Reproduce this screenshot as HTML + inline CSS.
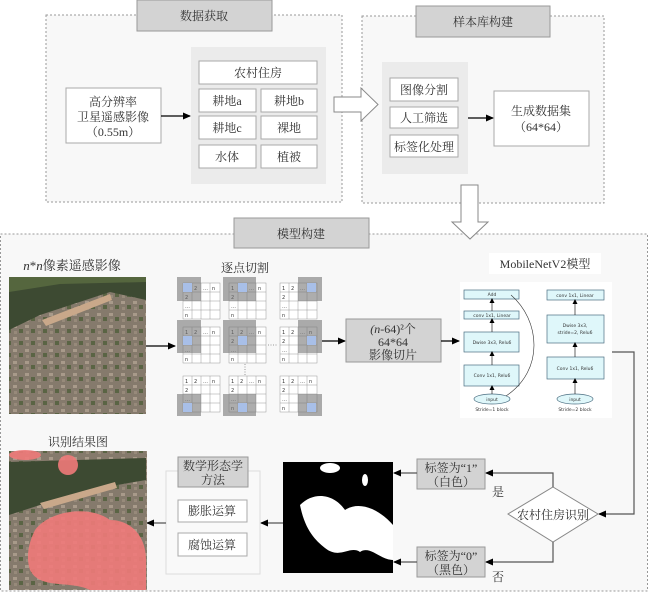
<!DOCTYPE html>
<html><head><meta charset="utf-8"><style>
body{margin:0;background:#fff}
svg{display:block;font-family:"Liberation Serif","Noto Serif CJK SC",serif}
.t{font-size:12px;fill:#333;text-anchor:middle}
.s{font-family:"DejaVu Sans",sans-serif;font-size:4.5px;fill:#333;text-anchor:middle}
.g{font-family:"DejaVu Sans",sans-serif;font-size:5px;fill:#333}
</style></head><body>
<svg width="650" height="593" viewBox="0 0 650 593" xmlns="http://www.w3.org/2000/svg">
<defs>
<marker id="a" markerWidth="8" markerHeight="8" refX="7" refY="4" orient="auto" markerUnits="userSpaceOnUse"><path d="M0,0.5 L8,4 L0,7.5z" fill="#000"/></marker>
<marker id="b" markerWidth="5" markerHeight="5" refX="4" refY="2.5" orient="auto" markerUnits="userSpaceOnUse"><path d="M0,0 L5,2.5 L0,5z" fill="#000"/></marker>
<pattern id="sat" width="12" height="12" patternUnits="userSpaceOnUse"><rect width="12" height="12" fill="#857a6c"/><rect x="1" y="1" width="4" height="3" fill="#a89a8a"/><rect x="7" y="5" width="4" height="4" fill="#5a6444"/><rect x="2" y="7" width="3" height="3" fill="#978a7a"/></pattern>
<g id="grid">
<rect x="0" y="0" width="37" height="36" fill="#fff" stroke="#999" stroke-width="0.5"/>
<path d="M0,9 H37 M0,18 H37 M0,27 H37 M9,0 V36 M18,0 V36 M27,0 V36" stroke="#999" stroke-width="0.5"/>
<text class="g" x="2" y="7">1</text><text class="g" x="11" y="7">2</text><text class="g" x="20" y="7">…</text><text class="g" x="29" y="7">n</text>
<text class="g" x="2" y="16">2</text><text class="g" x="2" y="25">…</text><text class="g" x="2" y="34">n</text>
</g>
</defs>
<!-- Box 1 -->
<rect x="46" y="15" width="296" height="187" fill="#f8f8f8" stroke="#999" stroke-dasharray="2,2"/>
<rect x="137" y="0" width="135" height="31" fill="#d3d3d3" stroke="#999"/>
<text class="t" x="204" y="20">数据获取</text>
<rect x="191" y="47" width="135" height="137" fill="#ebebeb"/>
<g fill="#fff" stroke="#aaa">
<rect x="199" y="61" width="118" height="23"/>
<rect x="199" y="89" width="57" height="23"/><rect x="261" y="89" width="56" height="23"/>
<rect x="199" y="116" width="57" height="23"/><rect x="261" y="116" width="56" height="23"/>
<rect x="199" y="145" width="57" height="23"/><rect x="261" y="145" width="56" height="23"/>
<rect x="66" y="88" width="95" height="55"/>
</g>
<text class="t" x="258" y="77">农村住房</text>
<text class="t" x="227" y="105">耕地a</text><text class="t" x="289" y="105">耕地b</text>
<text class="t" x="227" y="132">耕地c</text><text class="t" x="289" y="132">裸地</text>
<text class="t" x="227" y="161">水体</text><text class="t" x="289" y="161">植被</text>
<text class="t" x="113" y="106">高分辨率</text>
<text class="t" x="113" y="121">卫星遥感影像</text>
<text class="t" x="113" y="136">（0.55m）</text>
<line x1="161" y1="116" x2="190" y2="116" stroke="#000" stroke-width="1.2" marker-end="url(#a)"/>
<!-- Box 2 -->
<rect x="362" y="16" width="242" height="187" fill="#f8f8f8" stroke="#999" stroke-dasharray="2,2"/>
<rect x="416" y="6" width="134" height="31" fill="#d3d3d3" stroke="#999"/>
<text class="t" x="483" y="26">样本库构建</text>
<path d="M334,97 L361,97 L361,88 L378,104.5 L361,121 L361,112 L334,112z" fill="#fff" stroke="#888"/>
<rect x="382" y="62" width="86" height="112" fill="#ebebeb"/>
<g fill="#fff" stroke="#aaa">
<rect x="390" y="78" width="68" height="23"/><rect x="390" y="107" width="68" height="21"/><rect x="390" y="135" width="68" height="22"/>
<rect x="494" y="91" width="95" height="55"/>
</g>
<text class="t" x="424" y="94">图像分割</text>
<text class="t" x="424" y="122">人工筛选</text>
<text class="t" x="424" y="151">标签化处理</text>
<text class="t" x="541" y="115">生成数据集</text>
<text class="t" x="541" y="131">（64*64）</text>
<line x1="468" y1="118" x2="493" y2="118" stroke="#000" stroke-width="1.2" marker-end="url(#a)"/>
<!-- Box 3 -->
<rect x="0.5" y="234" width="647" height="357" fill="#f8f8f8" stroke="#999" stroke-dasharray="2,2"/>
<path d="M461,185 L478,185 L478,222 L488,222 L470,239 L452,222 L461,222z" fill="#fff" stroke="#888"/>
<rect x="234" y="218" width="135" height="30" fill="#d3d3d3" stroke="#999"/>
<text class="t" x="301" y="238">模型构建</text>
<text class="t" x="72" y="270" style="font-size:13px"><tspan font-style="italic">n</tspan>*<tspan font-style="italic">n</tspan>像素遥感影像</text>
<rect x="9" y="277" width="137" height="137" fill="url(#sat)"/>
<path d="M9,290 L60,282 L146,280 L146,300 L110,292 L40,315 L9,330z" fill="#3d4a32"/>
<path d="M42,320 L110,294 L112,300 L46,326z" fill="#c9a88a"/>
<path d="M9,277 L146,277 L146,282 L60,284 L9,292z" fill="#55663e"/>
<text class="t" x="245" y="272">逐点切割</text>
<use href="#grid" x="183" y="283"/><use href="#grid" x="229" y="283"/><use href="#grid" x="280" y="283"/>
<use href="#grid" x="183" y="327"/><use href="#grid" x="229" y="327"/><use href="#grid" x="280" y="327"/>
<use href="#grid" x="183" y="376"/><use href="#grid" x="229" y="376"/><use href="#grid" x="280" y="376"/>
<g fill="#777" opacity="0.6">
<rect x="177" y="277" width="24" height="24"/><rect x="223" y="277" width="33" height="24"/><rect x="298" y="277" width="24" height="24"/>
<rect x="177" y="320" width="24" height="33"/><rect x="223" y="320" width="33" height="33"/><rect x="298" y="320" width="24" height="33"/>
<rect x="177" y="394" width="24" height="22"/><rect x="223" y="394" width="33" height="22"/><rect x="298" y="394" width="24" height="22"/>
</g>
<g fill="#a8bfe8"><rect x="183" y="283" width="9" height="9"/><rect x="238" y="283" width="9" height="9"/><rect x="307" y="283" width="9" height="9"/>
<rect x="183" y="336" width="9" height="9"/><rect x="238" y="336" width="9" height="9"/><rect x="307" y="336" width="9" height="9"/>
<rect x="183" y="403" width="9" height="9"/><rect x="238" y="403" width="9" height="9"/><rect x="307" y="403" width="9" height="9"/></g>
<line x1="268" y1="345" x2="278" y2="345" stroke="#999" stroke-dasharray="1,1.5"/>
<line x1="245" y1="364" x2="245" y2="375" stroke="#999" stroke-dasharray="1,1.5"/>
<line x1="146" y1="346" x2="175" y2="346" stroke="#000" stroke-width="1.2" marker-end="url(#a)"/>
<line x1="322" y1="341" x2="345" y2="341" stroke="#000" stroke-width="1.2" marker-end="url(#a)"/>
<rect x="346" y="319" width="95" height="43" fill="#d3d3d3" stroke="#999"/>
<text class="t" x="393" y="333"><tspan font-style="italic">(n</tspan>-64)²个</text>
<text class="t" x="393" y="346">64*64</text>
<text class="t" x="393" y="359">影像切片</text>
<line x1="441" y1="341" x2="459" y2="341" stroke="#000" stroke-width="1.2" marker-end="url(#a)"/>
<rect x="489" y="253" width="112" height="21" fill="#fff"/>
<text class="t" x="545" y="268">MobileNetV2模型</text>
<rect x="460" y="282" width="152" height="136" fill="#fff"/>
<g fill="#dff7fa" stroke="#4a6d80" stroke-width="0.7">
<rect x="464" y="290" width="55" height="9"/><rect x="464" y="311" width="55" height="8"/><rect x="464" y="332" width="55" height="20"/><rect x="464" y="365" width="55" height="21"/>
<rect x="547" y="290" width="57" height="10"/><rect x="547" y="315" width="57" height="28"/><rect x="547" y="357" width="57" height="22"/>
<ellipse cx="492" cy="399" rx="18" ry="5"/><ellipse cx="575" cy="399" rx="18" ry="5"/>
</g>
<g stroke="#000" stroke-width="0.6" marker-end="url(#b)">
<line x1="492" y1="394" x2="492" y2="386"/><line x1="492" y1="365" x2="492" y2="352"/><line x1="492" y1="332" x2="492" y2="319"/><line x1="492" y1="311" x2="492" y2="299"/>
<line x1="575" y1="394" x2="575" y2="379"/><line x1="575" y1="357" x2="575" y2="343"/><line x1="575" y1="315" x2="575" y2="300"/>
</g>
<path d="M506,396 C545,370 540,320 511,295" fill="none" stroke="#333" stroke-width="0.6"/>
<text class="s" x="492" y="296">Add</text><text class="s" x="492" y="317">conv 1x1, Linear</text>
<text class="s" x="492" y="344">Dwise 3x3, Relu6</text><text class="s" x="492" y="377">Conv 1x1, Relu6</text>
<text class="s" x="492" y="401">input</text><text class="s" x="492" y="411">Stride=1 block</text>
<text class="s" x="575" y="297">conv 1x1, Linear</text><text class="s" x="575" y="327">Dwise 3x3,</text><text class="s" x="575" y="334">stride=2, Relu6</text>
<text class="s" x="575" y="370">Conv 1x1, Relu6</text><text class="s" x="575" y="401">input</text><text class="s" x="575" y="411">Stride=2 block</text>
<!-- bottom flow -->
<polyline points="612,352 634,352 634,514 599,514" fill="none" stroke="#555" stroke-width="1.2" marker-end="url(#a)"/>
<polygon points="553,487 598,514 553,542 508,514" fill="#fff" stroke="#888"/>
<text class="t" x="553" y="519">农村住房识别</text>
<polyline points="553,487 553,473 486,473" fill="none" stroke="#555" stroke-width="1.2" marker-end="url(#a)"/>
<polyline points="553,542 553,562 486,562" fill="none" stroke="#555" stroke-width="1.2" marker-end="url(#a)"/>
<text class="t" x="498" y="496">是</text><text class="t" x="498" y="581">否</text>
<rect x="417" y="459" width="68" height="30" fill="#d3d3d3" stroke="#999"/>
<text class="t" x="451" y="472">标签为“1”</text><text class="t" x="451" y="486">（白色）</text>
<rect x="417" y="547" width="68" height="30" fill="#d3d3d3" stroke="#999"/>
<text class="t" x="451" y="560">标签为“0”</text><text class="t" x="451" y="574">（黑色）</text>
<line x1="417" y1="473" x2="394" y2="473" stroke="#555" stroke-width="1.2" marker-end="url(#a)"/>
<line x1="417" y1="562" x2="394" y2="562" stroke="#555" stroke-width="1.2" marker-end="url(#a)"/>
<rect x="283" y="462" width="110" height="111" fill="#000"/>
<g fill="#fff">
<path d="M300,505 C315,490 335,495 345,510 C360,500 380,510 393,525 L393,560 C380,560 370,545 360,552 C350,545 340,560 325,548 C315,540 305,530 300,505z"/>
<ellipse cx="330" cy="468" rx="10" ry="5"/><ellipse cx="365" cy="480" rx="3" ry="6"/>
</g>
<line x1="283" y1="523" x2="261" y2="523" stroke="#555" stroke-width="1.2" marker-end="url(#a)"/>
<rect x="166" y="471" width="94" height="103" fill="#f9f9f9" stroke="#ddd"/>
<rect x="178" y="457" width="70" height="30" fill="#d3d3d3" stroke="#999"/>
<text class="t" x="213" y="470">数学形态学</text><text class="t" x="213" y="484">方法</text>
<rect x="178" y="500" width="69" height="22" fill="#fff" stroke="#aaa"/>
<rect x="178" y="533" width="69" height="23" fill="#fff" stroke="#aaa"/>
<text class="t" x="212" y="515">膨胀运算</text><text class="t" x="212" y="549">腐蚀运算</text>
<line x1="166" y1="523" x2="147" y2="523" stroke="#555" stroke-width="1.2" marker-end="url(#a)"/>
<text class="t" x="78" y="446">识别结果图</text>
<rect x="9" y="451" width="138" height="139" fill="url(#sat)"/>
<path d="M9,462 L146,458 L146,480 L100,488 L40,505 L9,515z" fill="#3d4a32"/>
<path d="M40,503 L115,482 L117,488 L44,509z" fill="#c9a88a"/>
<g fill="#f07a7a" opacity="0.9">
<path d="M35,530 C50,510 90,505 110,520 C130,520 146,535 146,560 L146,590 L90,590 C70,580 40,590 30,570 C25,555 30,540 35,530z"/>
<ellipse cx="25" cy="455" rx="16" ry="5"/><ellipse cx="68" cy="465" rx="10" ry="10"/>
</g>
</svg>
</body></html>
